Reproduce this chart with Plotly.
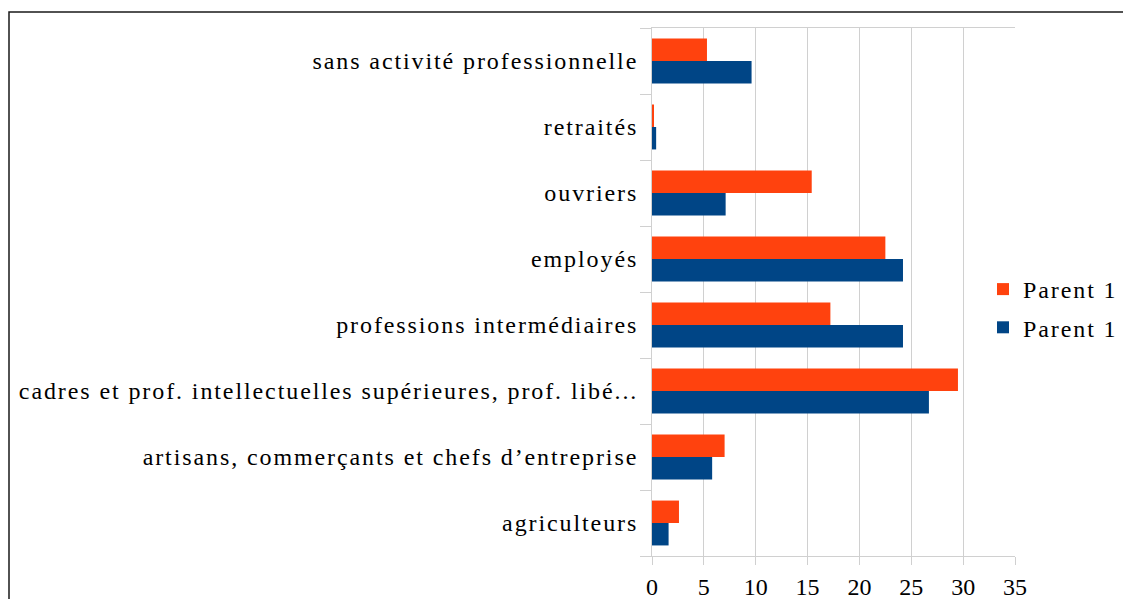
import plotly.graph_objects as go

categories = [
    "agriculteurs",
    "artisans, commerçants et chefs d’entreprise",
    "cadres et prof. intellectuelles supérieures, prof. libé...",
    "professions intermédiaires",
    "employés",
    "ouvriers",
    "retraités",
    "sans activité professionnelle",
]
parent_orange = [2.6, 7.0, 29.5, 17.2, 22.5, 15.4, 0.1, 5.3]
parent_blue = [1.6, 5.8, 26.7, 24.2, 24.2, 7.1, 0.4, 9.6]
series_names = ["Parent 1", "Parent 1"]
x_ticks = [0, 5, 10, 15, 20, 25, 30, 35]

LS = "letter-spacing:1.9px"
def sp(t):
    return f'<span style="{LS}">{t}</span>'

OFF = 8  # page body margin
W, H = 1131, 599
L, R, T, B = 652 - OFF, 1015 - OFF, 28 - OFF, 556 - OFF
pw, ph = R - L, B - T

FONT = "Liberation Serif"
FS = 24

fig = go.Figure()
fig.add_trace(go.Bar(y=categories, x=parent_blue, orientation="h", legendgroup="b", legendrank=2,
                     name=sp(series_names[1]), marker=dict(color="#004586", line_width=0)))
fig.add_trace(go.Bar(y=categories, x=parent_orange, orientation="h", legendgroup="a", legendrank=1,
                     name=sp(series_names[0]), marker=dict(color="#FF420E", line_width=0)))

grid = "#d0d0d0"
fig.update_layout(
    width=W, height=H,
    margin=dict(l=L, r=W - R, t=T, b=H - B, autoexpand=False),
    paper_bgcolor="white", plot_bgcolor="white",
    barmode="group", bargap=0.32, bargroupgap=0,
    font=dict(family=FONT, size=FS, color="black"),
    legend=dict(traceorder="grouped", x=(975 - L) / pw, xanchor="left",
                y=(B - 300.5) / ph, yanchor="middle",
                font=dict(family=FONT, size=FS), itemwidth=30, tracegroupgap=4,
                bgcolor="rgba(0,0,0,0)"),
    xaxis=dict(range=[0, 35], tickvals=x_ticks, ticktext=[str(v) for v in x_ticks],
               showgrid=True, gridcolor=grid, gridwidth=1, zeroline=False,
               showline=True, linecolor=grid, linewidth=1, mirror=True,
               ticks="outside", ticklen=8, tickcolor=grid, ticklabelstandoff=1,
               tickfont=dict(family=FONT, size=FS)),
    yaxis=dict(type="category", categoryorder="array", categoryarray=categories,
               tickvals=categories, ticktext=[sp(c) for c in categories],
               showgrid=False, zeroline=False,
               showline=True, linecolor=grid, linewidth=1,
               ticks="outside", ticklen=11, tickcolor=grid, tickson="boundaries",
               ticklabelstandoff=8,
               tickfont=dict(family=FONT, size=FS)),
)

# outer chart frame (extends beyond the visible window at right and bottom)
fig.add_shape(type="rect", xref="paper", yref="paper",
              x0=(9 - OFF - L) / pw, x1=(W + 20 - L) / pw,
              y0=(B - (H + 20)) / ph, y1=(B - (12 - OFF)) / ph,
              line=dict(color="#1a1a1a", width=1.5), fillcolor="rgba(0,0,0,0)", layer="below")

fig.write_html("out.html")
